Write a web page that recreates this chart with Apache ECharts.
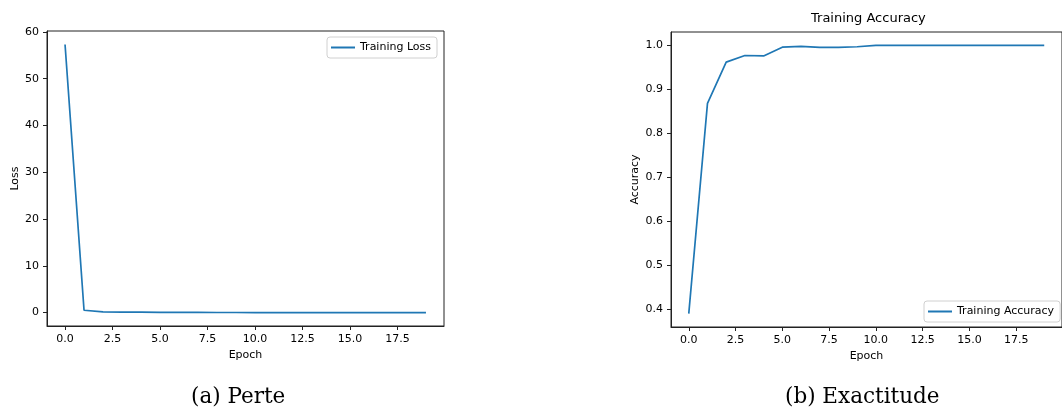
<!DOCTYPE html>
<html>
<head>
<meta charset="utf-8">
<script src="https://cdn.jsdelivr.net/npm/echarts@6/dist/echarts.min.js"></script>
<style>
  html, body { margin: 0; padding: 0; background: #fff; }
  #main { width: 1062px; height: 412px; }
</style>
</head>
<body>
<div id="main"></div>
<script>
// donnees
var epochs = [0, 1, 2, 3, 4, 5, 6, 7, 8, 9, 10, 11, 12, 13, 14, 15, 16, 17, 18, 19];
var lossData = [57.3, 0.5, 0.15, 0.1, 0.08, 0.05, 0.03, 0.04, 0.02, 0.02,
                0.01, 0.01, 0.01, 0.01, 0.0, 0.0, 0.0, 0.0, 0.0, 0.0];
var accData = [0.39, 0.868, 0.962, 0.977, 0.976, 0.996, 0.998, 0.9955, 0.9955, 0.997,
               1.0, 1.0, 1.0, 1.0, 1.0, 1.0, 1.0, 1.0, 1.0, 1.0];

var xTicks = [0, 2.5, 5, 7.5, 10, 12.5, 15, 17.5];
var lossTicks = [0, 10, 20, 30, 40, 50, 60];
var accTicks = [0.4, 0.5, 0.6, 0.7, 0.8, 0.9, 1.0];

var blue = '#1f77b4';
var font = 'DejaVu Sans';

function pairs(ys) {
    return epochs.map(function (e, i) { return [e, ys[i]]; });
}

var chart = echarts.init(document.getElementById('main'));

var spine = { show: true, onZero: false, lineStyle: { color: '#222', width: 1 } };

function xAxisFor(idx) {
    return {
        type: 'value',
        gridIndex: idx,
        min: -0.95,
        max: 19.95,
        name: 'Epoch',
        nameLocation: 'middle',
        nameGap: 22,
        nameTextStyle: { color: '#000', fontFamily: font, fontSize: 11 },
        axisLine: spine,
        splitLine: { show: false },
        axisTick: { show: true, length: 4, customValues: xTicks, lineStyle: { color: '#222' } },
        axisLabel: {
            customValues: xTicks, margin: 8, color: '#000', fontFamily: font, fontSize: 11,
            formatter: function (v) { return v.toFixed(1); }
        }
    };
}

var option = {
    animation: false,
    backgroundColor: '#fff',
    grid: [
        { left: 47, top: 31, width: 397, height: 295, show: true, borderColor: '#222', borderWidth: 1 },
        { left: 671, top: 32, width: 397, height: 295, show: true, borderColor: '#222', borderWidth: 1 }
    ],
    xAxis: [xAxisFor(0), xAxisFor(1)],
    yAxis: [
        {
            type: 'value', gridIndex: 0, min: -2.87, max: 60.2,
            name: 'Loss', nameLocation: 'middle', nameGap: 26,
            nameTextStyle: { color: '#000', fontFamily: font, fontSize: 11 },
            axisLine: spine, splitLine: { show: false },
            axisTick: { show: true, length: 4, customValues: lossTicks, lineStyle: { color: '#222' } },
            axisLabel: { customValues: lossTicks, margin: 8, color: '#000', fontFamily: font, fontSize: 11 }
        },
        {
            type: 'value', gridIndex: 1, min: 0.3595, max: 1.0305,
            name: 'Accuracy', nameLocation: 'middle', nameGap: 30,
            nameTextStyle: { color: '#000', fontFamily: font, fontSize: 11 },
            axisLine: spine, splitLine: { show: false },
            axisTick: { show: true, length: 4, customValues: accTicks, lineStyle: { color: '#222' } },
            axisLabel: {
                customValues: accTicks, margin: 8, color: '#000', fontFamily: font, fontSize: 11,
                formatter: function (v) { return v.toFixed(1); }
            }
        }
    ],
    legend: [
        {
            data: ['Training Loss'], left: 327, top: 37,
            icon: 'rect', itemWidth: 24, itemHeight: 2,
            padding: [5, 6, 5, 4], itemGap: 8,
            backgroundColor: 'rgba(255,255,255,0.8)', borderColor: '#d0d0d0', borderWidth: 1, borderRadius: 3,
            textStyle: { color: '#000', fontFamily: font, fontSize: 11 }
        },
        {
            data: ['Training Accuracy'], left: 924, top: 301,
            icon: 'rect', itemWidth: 24, itemHeight: 2,
            padding: [5, 6, 5, 4], itemGap: 8,
            backgroundColor: 'rgba(255,255,255,0.8)', borderColor: '#d0d0d0', borderWidth: 1, borderRadius: 3,
            textStyle: { color: '#000', fontFamily: font, fontSize: 11 }
        }
    ],
    graphic: [
        { type: 'text', left: 811, top: 12, style: { text: 'Training Accuracy', fill: '#000', font: '13px "DejaVu Sans"' } },
        { type: 'text', left: 191, top: 386, style: { text: '(a) Perte', fill: '#000', font: '21.5px "DejaVu Serif"' } },
        { type: 'text', left: 785, top: 386, style: { text: '(b) Exactitude', fill: '#000', font: '21.5px "DejaVu Serif"' } }
    ],
    series: [
        {
            name: 'Training Loss', type: 'line', xAxisIndex: 0, yAxisIndex: 0,
            data: pairs(lossData), showSymbol: false,
            lineStyle: { color: blue, width: 1.7 }, itemStyle: { color: blue }
        },
        {
            name: 'Training Accuracy', type: 'line', xAxisIndex: 1, yAxisIndex: 1,
            data: pairs(accData), showSymbol: false,
            lineStyle: { color: blue, width: 1.7 }, itemStyle: { color: blue }
        }
    ]
};

chart.setOption(option);
</script>
</body>
</html>
